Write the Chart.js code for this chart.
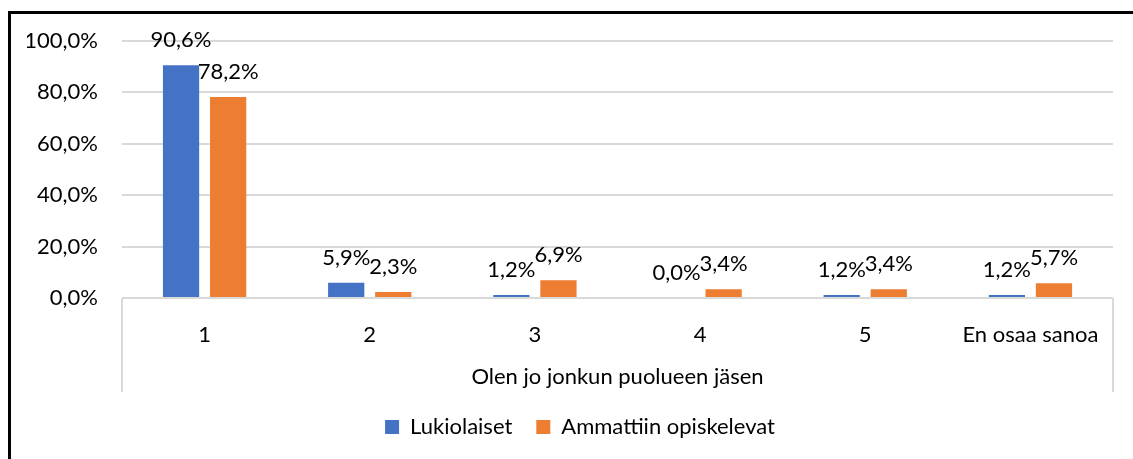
<!DOCTYPE html>
<html>
<head>
<meta charset="utf-8">
<script src="https://cdn.jsdelivr.net/npm/chart.js@4"></script>
<style>
  body { margin: 0; background: #fff; }
  #frame { position: absolute; left: 8px; top: 11px; width: 1140px; height: 460px; border-left: 3px solid #000; border-top: 3px solid #000; }
  #wrap { position: absolute; left: 27px; top: 0; width: 1106px; height: 459px; }
</style>
</head>
<body>
<div id="frame"></div>
<div id="wrap"><canvas id="chart"></canvas></div>
<script>
const categories = ['1', '2', '3', '4', '5', 'En osaa sanoa'];
const lukiolaiset = [90.6, 5.9, 1.2, 0.0, 1.2, 1.2];
const ammattiin = [78.2, 2.3, 6.9, 3.4, 3.4, 5.7];
const axisTitle = 'Olen jo jonkun puolueen jäsen';

const FONT = { family: 'Lato', size: 22 };
const GRID = '#d9d9d9';

function pct(v) {
    return v.toFixed(1).replace('.', ',') + '%';
}

// value labels above the bars
const barLabels = {
    id: 'barLabels',
    afterDatasetsDraw(chart) {
        const ctx = chart.ctx;
        ctx.save();
        ctx.font = FONT.size + 'px ' + FONT.family;
        ctx.fillStyle = '#000';
        ctx.textAlign = 'center';
        ctx.textBaseline = 'alphabetic';
        chart.data.datasets.forEach((ds, i) => {
            chart.getDatasetMeta(i).data.forEach((bar, j) => {
                ctx.fillText(pct(ds.data[j]), bar.x, bar.y - 18);
            });
        });
        ctx.restore();
    }
};

// vertical lines at the ends of the category axis
const axisEdges = {
    id: 'axisEdges',
    afterDraw(chart) {
        const { ctx, chartArea } = chart;
        const x = chart.scales.x;
        ctx.save();
        ctx.strokeStyle = GRID;
        ctx.lineWidth = 2;
        [chartArea.left, chartArea.right].forEach(px => {
            ctx.beginPath();
            ctx.moveTo(px, chartArea.bottom);
            ctx.lineTo(px, x.bottom);
            ctx.stroke();
        });
        ctx.restore();
    }
};

// Excel centres the legend a bit to the right; nudge it the same way
const legendShift = {
    id: 'legendShift',
    afterLayout(chart) {
        chart.legend.left = chart.chartArea.left - 75;
        chart.legend.right = chart.chartArea.right;
    }
};

new Chart(document.getElementById('chart'), {
    type: 'bar',
    data: {
        labels: categories,
        datasets: [{
            label: 'Lukiolaiset',
            data: lukiolaiset,
            backgroundColor: '#4472C4',
            categoryPercentage: 0.57,
            barPercentage: 0.77
        }, {
            label: 'Ammattiin opiskelevat',
            data: ammattiin,
            backgroundColor: '#ED7D31',
            categoryPercentage: 0.57,
            barPercentage: 0.77
        }]
    },
    options: {
        responsive: true,
        maintainAspectRatio: false,
        animation: false,
        devicePixelRatio: 1,
        layout: { padding: { top: 41, right: 20, left: 0, bottom: 11 } },
        plugins: {
            legend: {
                position: 'bottom',
                labels: {
                    font: FONT,
                    color: '#000',
                    boxWidth: 14,
                    boxHeight: 14,
                    padding: 24
                }
            },
            tooltip: { enabled: false }
        },
        scales: {
            x: {
                grid: { display: false, drawTicks: false },
                border: { display: false },
                ticks: { font: FONT, color: '#000', padding: 24 },
                title: {
                    display: true,
                    text: axisTitle,
                    font: FONT,
                    color: '#000',
                    padding: { top: 20, bottom: 2 }
                },
                afterFit(scale) { scale.height = 94; }
            },
            y: {
                min: 0,
                max: 100,
                ticks: {
                    stepSize: 20,
                    font: FONT,
                    color: '#000',
                    padding: 24,
                    callback: v => pct(v)
                },
                grid: { color: GRID, lineWidth: 2, drawTicks: false },
                border: { display: false },
                afterFit(scale) { scale.width = 95; }
            }
        }
    },
    plugins: [barLabels, axisEdges, legendShift]
});
</script>
</body>
</html>
